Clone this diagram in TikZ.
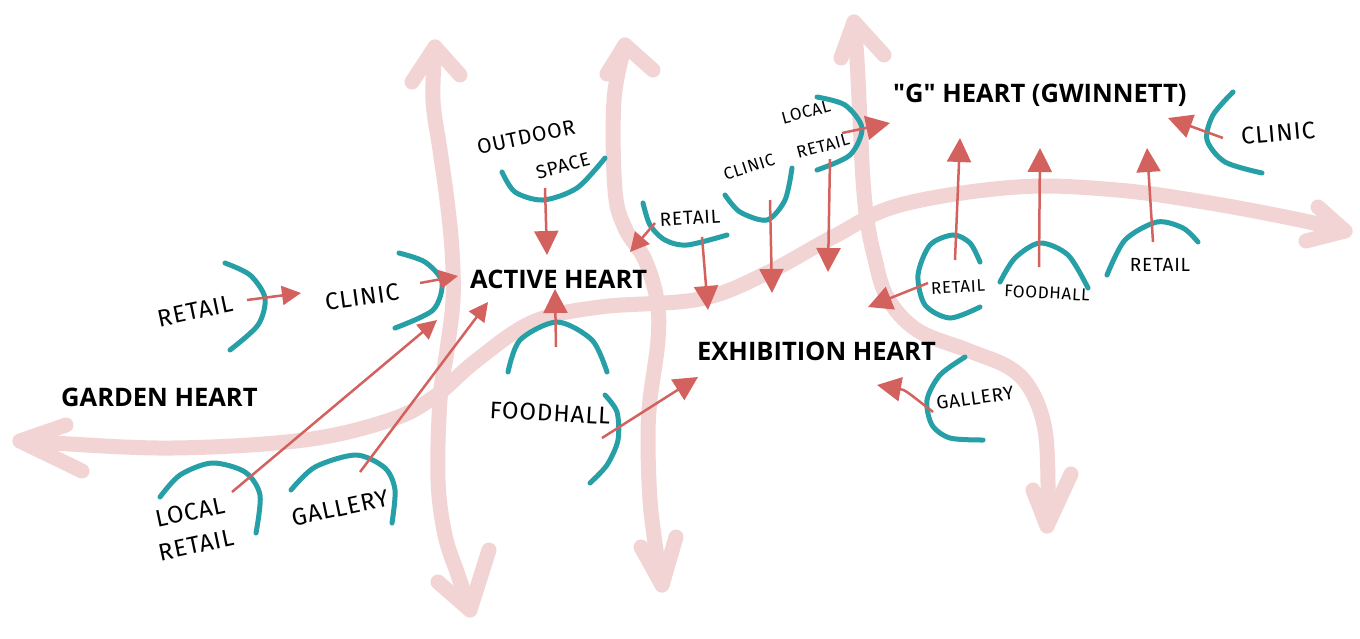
\documentclass[tikz,border=0pt]{standalone}
\usepackage{fontspec}
\setmainfont{Open Sans}[Ligatures=TeXOff]
\newfontfamily\handfont[LetterSpace=4]{Fira Sans}
\usetikzlibrary{arrows.meta}
\definecolor{pinkc}{RGB}{242,212,212}
\definecolor{tealc}{RGB}{38,160,166}
\definecolor{redc}{RGB}{211,98,94}
\tikzset{
  pinkpath/.style={draw=pinkc, line width=15pt, line cap=round, line join=round},
  tealarc/.style={draw=tealc, line width=5pt, line cap=round},
  redarrow/.style={draw=redc, line width=2.5pt, -{Triangle[width=24pt,length=24pt]}},
  redsmall/.style={draw=redc, line width=2.5pt, -{Triangle[width=19pt,length=19pt]}},
  heart/.style={font=\fontsize{25.5}{30}\selectfont\bfseries, inner sep=0pt, anchor=base west},
  handbig/.style={font=\handfont\fontsize{24}{28}\selectfont, inner sep=0pt},
  handsmall/.style={font=\handfont\fontsize{19}{23}\selectfont, inner sep=0pt},
  handtiny/.style={font=\handfont\fontsize{17}{20}\selectfont, inner sep=0pt},
}
\begin{document}
\begin{tikzpicture}[x=1pt,y=-1pt]
\useasboundingbox (0,0) rectangle (1360,638);
\fill[white] (0,0) rectangle (1360,638);

% ---------- pink circulation paths ----------
\draw[pinkpath] plot[smooth,tension=0.6] coordinates {(20,441) (52,443) (173,448) (304,440) (390,420) (434,397) (477,360) (533,322) (600,307) (700,299) (767,273) (833,237) (900,205) (1017,187) (1117,190) (1210,203) (1300,220) (1345,231)};
\draw[pinkpath] (66,425) -- (20,441) -- (82,471);
\draw[pinkpath] (1318,207) -- (1345,231) -- (1306,241);

\draw[pinkpath] plot[smooth,tension=0.6] coordinates {(435,47) (433,100) (440,150) (447,200) (452,250) (453,300) (447,350) (440,400) (438,480) (445,535) (458,575) (470,610)};
\draw[pinkpath] (412,82) -- (435,47) -- (460,75);
\draw[pinkpath] (438,582) -- (470,610) -- (489,550);

\draw[pinkpath] plot[smooth,tension=0.6] coordinates {(625,45) (614,100) (615,190) (625,228) (645,260) (657,300) (658,340) (650,400) (648,440) (650,500) (656,550) (662,585)};
\draw[pinkpath] (607,74) -- (625,45) -- (653,70);
\draw[pinkpath] (641,547) -- (662,585) -- (676,537);

\draw[pinkpath] plot[smooth,tension=0.6] coordinates {(854,22) (857,60) (860,120) (863,180) (867,220) (874,255) (887,297) (917,330) (967,350) (1010,368) (1032,392) (1045,430) (1048,483) (1047,526)};
\draw[pinkpath] (841,58) -- (854,22) -- (884,55);
\draw[pinkpath] (1033,490) -- (1047,526) -- (1071,474);

% ---------- teal arcs ----------
\draw[tealarc] plot[smooth] coordinates {(225,263) (250,275) (265,298) (258,325) (230,350)};
\draw[tealarc] plot[smooth] coordinates {(399,253) (425,262) (442,282) (433,310) (395,328)};
\draw[tealarc] plot[smooth] coordinates {(502,172) (515,192) (543,200) (577,188) (605,158)};
\draw[tealarc] plot[smooth] coordinates {(643,203) (650,225) (665,240) (687,245) (727,235)};
\draw[tealarc] plot[smooth] coordinates {(725,195) (740,212) (767,220) (785,200) (792,168)};
\draw[tealarc] plot[smooth] coordinates {(817,97) (845,105) (862,128) (850,155) (817,170)};
\draw[tealarc] plot[smooth] coordinates {(1233,92) (1213,115) (1207,140) (1225,162) (1262,173)};
\draw[tealarc] plot[smooth] coordinates {(980,262) (970,243) (953,235) (930,245) (918,275) (925,305) (950,318) (980,307)};
\draw[tealarc] plot[smooth] coordinates {(1000,282) (1015,258) (1040,243) (1068,255) (1088,288)};
\draw[tealarc] plot[smooth] coordinates {(1107,275) (1125,240) (1157,222) (1183,228) (1198,242)};
\draw[tealarc] plot[smooth] coordinates {(508,372) (520,340) (557,322) (592,340) (607,372)};
\draw[tealarc] plot[smooth] coordinates {(605,395) (617,412) (618,440) (607,465) (590,483)};
\draw[tealarc] plot[smooth] coordinates {(965,357) (940,375) (927,400) (932,425) (950,438) (983,440)};
\draw[tealarc] plot[smooth] coordinates {(160,497) (180,475) (212,463) (245,472) (260,495) (256,533)};
\draw[tealarc] plot[smooth] coordinates {(291,490) (315,467) (356,455) (385,468) (395,490) (392,523)};

% ---------- labels ----------
\node[heart] (garden) at (61,406) {GARDEN HEART};
\node[heart] (active) at (470,288) {ACTIVE HEART};
\node[heart] (exhib) at (697,360) {EXHIBITION HEART};
\node[heart] (gheart) at (893,102) {"G" HEART (GWINNETT)};

\node[handbig, rotate=12] (retailA) at (195,311) {RETAIL};
\node[handbig, rotate=8] (clinicA) at (362,297) {CLINIC};
\node[handsmall, font=\handfont\fontsize{21}{24}\selectfont, rotate=12] (outdoor) at (526,137) {OUTDOOR};
\node[handsmall, rotate=15] (space) at (563,166) {SPACE};
\node[handsmall, rotate=3] (retailB) at (690,218) {RETAIL};
\node[handtiny, rotate=18] (clinicB) at (749,167) {CLINIC};
\node[handtiny, rotate=15] (localC) at (806,112) {LOCAL};
\node[handtiny, rotate=15] (retailC) at (823,146) {RETAIL};
\node[handbig, rotate=5] (clinicD) at (1278,133) {CLINIC};
\node[handtiny, rotate=3] (retailE) at (958,287) {RETAIL};
\node[handtiny, rotate=-3] (foodF) at (1047,293) {FOODHALL};
\node[handsmall] (retailG) at (1160,265) {RETAIL};
\node[handbig, rotate=-3] (foodH) at (550,413) {FOODHALL};
\node[handsmall, rotate=8] (galleryJ) at (975,398) {GALLERY};
\node[handbig, rotate=12] (localK) at (190,512) {LOCAL};
\node[handbig, rotate=12] (retailK) at (196,545) {RETAIL};
\node[handbig, rotate=12] (galleryL) at (340,508) {GALLERY};

% ---------- red arrows ----------
\coordinate (r1s) at (247,300);  \coordinate (r1e) at (301,293);
\coordinate (r2s) at (420,283);  \coordinate (r2e) at (458,276);
\coordinate (r3s) at (545,188);  \coordinate (r3e) at (547,255);
\coordinate (r4s) at (556,347);  \coordinate (r4e) at (555,289);
\coordinate (r5s) at (232,492);  \coordinate (r5e) at (437,320);
\coordinate (r6s) at (360,472);  \coordinate (r6e) at (488,302);
\coordinate (r7s) at (602,438);  \coordinate (r7e) at (698,377);
\coordinate (r8s) at (655,223);  \coordinate (r8e) at (630,252);
\coordinate (r9s) at (702,237);  \coordinate (r9e) at (708,310);
\coordinate (r10s) at (770,200); \coordinate (r10e) at (772,293);
\coordinate (r11s) at (830,159); \coordinate (r11e) at (828,272);
\coordinate (r12s) at (842,133); \coordinate (r12e) at (890,123);
\coordinate (r13s) at (928,283); \coordinate (r13e) at (868,307);
\coordinate (r14s) at (955,260); \coordinate (r14e) at (960,138);
\coordinate (r15s) at (1039,267); \coordinate (r15e) at (1040,148);
\coordinate (r16s) at (1153,242); \coordinate (r16e) at (1147,148);
\coordinate (r17s) at (1223,138); \coordinate (r17e) at (1168,118);
\coordinate (r18s) at (933,412); \coordinate (r18e) at (877,385);

\draw[redsmall] (r1s) -- (r1e);
\draw[redsmall] (r2s) -- (r2e);
\draw[redarrow] (r3s) -- (r3e);
\draw[redarrow] (r4s) -- (r4e);
\draw[redsmall] (r5s) -- (r5e);
\draw[redsmall] (r6s) -- (r6e);
\draw[redarrow] (r7s) -- (r7e);
\draw[redsmall] (r8s) -- (r8e);
\draw[redarrow] (r9s) -- (r9e);
\draw[redarrow] (r10s) -- (r10e);
\draw[redarrow] (r11s) -- (r11e);
\draw[redarrow] (r12s) -- (r12e);
\draw[redarrow] (r13s) -- (r13e);
\draw[redarrow] (r14s) -- (r14e);
\draw[redarrow] (r15s) -- (r15e);
\draw[redarrow] (r16s) -- (r16e);
\draw[redarrow] (r17s) -- (r17e);
\draw[redarrow] (r18s) .. controls (905,390) .. (r18e);
\end{tikzpicture}
\end{document}
